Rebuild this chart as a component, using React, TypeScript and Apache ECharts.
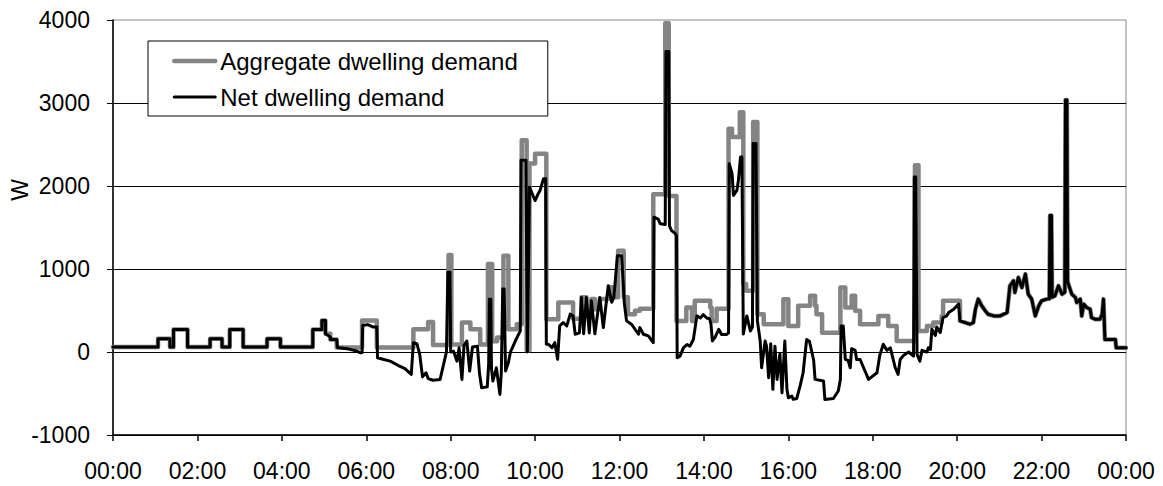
import React, { useEffect, useRef } from "react";
import * as echarts from "echarts";

// ---- data (time in minutes since 00:00, power in W) ----
const seriesNames = ["Aggregate dwelling demand", "Net dwelling demand"];
const xTickLabels = ["00:00", "02:00", "04:00", "06:00", "08:00", "10:00", "12:00", "14:00", "16:00", "18:00", "20:00", "22:00", "00:00"];
const yAxisTitle = "W";

// aggregate demand: level changes (value holds from each time until the next)
const aggStepTimes = [0, 64, 81, 86, 106, 138, 155, 166, 185, 219, 238, 284, 297, 302, 309, 318, 354, 375, 427, 448, 455, 477, 481, 496, 508, 522, 533, 539, 546, 555, 562, 574, 581, 588, 592, 600, 616, 633, 654, 666, 673, 680, 685, 692, 706, 711, 718, 726, 732, 742, 749, 768, 785, 790, 801, 815, 823, 827, 849, 851, 858, 875, 880, 891, 896, 900, 910, 916, 925, 953, 960, 974, 991, 998, 1000, 1008, 1034, 1041, 1050, 1055, 1062, 1088, 1102, 1114, 1140, 1145, 1157, 1166, 1178, 1180];
const aggStepValues = [60, 160, 60, 270, 60, 160, 60, 270, 60, 160, 60, 270, 380, 220, 150, 55, 380, 55, 275, 360, 85, 1170, 90, 355, 275, 90, 1060, 130, 175, 1160, 275, 335, 2550, 20, 2270, 2390, 395, 596, 400, 660, 430, 640, 516, 640, 780, 660, 1220, 660, 456, 496, 520, 1900, 3960, 1880, 375, 536, 375, 617, 536, 375, 520, 2690, 2590, 2890, 818, 737, 2770, 455, 334, 637, 314, 556, 677, 556, 455, 233, 777, 535, 677, 496, 334, 435, 314, 133, 2250, 254, 314, 355, 435, 617];

// net demand: points joined by straight lines
const netTimes = [0, 64, 64, 81, 81, 86, 86, 106, 106, 138, 138, 155, 155, 166, 166, 185, 185, 219, 219, 238, 238, 284, 284, 297, 297, 302, 302, 309, 309, 318, 319, 335, 345, 352, 354, 355, 362, 370, 375, 376, 385, 394, 405, 415, 424, 427, 432, 436, 440, 445, 448, 455, 465, 474, 476, 479, 480, 484, 489, 492, 496, 499, 503, 507, 511, 518, 521, 524, 532, 534, 535, 537, 538, 540, 545, 547, 550, 552, 554, 556, 558, 562, 565, 573, 579, 580, 587, 589, 592, 600, 604, 607, 612, 615, 616, 619, 624, 628, 632, 635, 640, 645, 650, 654, 657, 663, 666, 669, 673, 677, 680, 685, 692, 697, 704, 709, 712, 717, 723, 727, 730, 737, 742, 747, 749, 754, 761, 768, 769, 775, 778, 785, 786, 790, 791, 794, 799, 801, 802, 806, 811, 816, 820, 825, 830, 835, 839, 844, 848, 850, 852, 856, 861, 865, 872, 875, 876, 880, 882, 887, 889, 892, 894, 896, 901, 906, 909, 910, 914, 916, 920, 922, 927, 929, 932, 935, 938, 941, 944, 948, 951, 955, 958, 960, 965, 967, 972, 977, 981, 986, 990, 996, 998, 1010, 1012, 1024, 1031, 1034, 1035, 1038, 1041, 1045, 1048, 1050, 1055, 1057, 1062, 1067, 1074, 1086, 1090, 1095, 1100, 1105, 1112, 1116, 1119, 1124, 1131, 1138, 1139, 1141, 1143, 1147, 1150, 1152, 1157, 1159, 1162, 1164, 1169, 1171, 1176, 1178, 1180, 1185, 1188, 1195, 1202];
const netValues = [60, 60, 160, 160, 60, 60, 270, 270, 60, 60, 160, 160, 60, 60, 270, 270, 60, 60, 160, 160, 60, 60, 270, 270, 380, 380, 220, 180, 150, 150, 55, 35, 15, -10, -10, 320, 330, 300, 300, -70, -90, -110, -160, -200, -270, 112, 100, -30, -300, -250, -320, -340, -330, 0, 960, 960, 0, 10, -110, 50, -330, 80, 133, -230, 60, 70, -260, -430, -420, -150, 637, 637, -200, -350, -190, -320, -511, -250, 758, 758, -230, -130, 0, 153, 254, 2309, 2309, 0, 1986, 1825, 1900, 1945, 2088, 2088, 93, 93, 52, 113, -88, 314, 355, 314, 456, 435, 214, 230, 657, 220, 657, 230, 617, 220, 657, 294, 798, 600, 657, 1160, 1160, 577, 375, 335, 274, 214, 294, 214, 194, 113, 1624, 1600, 1544, 1535, 3620, 3620, 1520, 1463, 1430, 1400, -70, -50, 52, 90, 70, 150, 435, 410, 450, 410, 400, 335, 133, 180, 274, 210, 210, 230, 2269, 2150, 1886, 1950, 2068, 2349, 2349, 217, 435, 254, 300, 2511, 2511, 375, 133, -190, 133, 70, -310, 100, -450, 70, -330, -20, -492, 133, -450, -552, -530, -570, -560, -400, -250, 150, 130, -100, -330, -350, -573, -560, -470, -330, 314, 314, -88, -100, -190, 40, 20, -90, -90, -190, -330, -250, -40, 93, 20, 50, -190, -270, -90, -40, 0, -50, 2108, 2108, -30, -110, 20, 12, 0, 52, 30, 274, 200, 300, 234, 335, 415, 435, 475, 516, 577];

// evening, where both curves coincide
const tailTimes = [1204, 1218, 1223, 1226, 1230, 1235, 1240, 1244, 1252, 1261, 1271, 1275, 1280, 1282, 1287, 1292, 1297, 1301, 1306, 1311, 1316, 1320, 1327, 1331, 1332, 1334, 1335, 1339, 1344, 1349, 1353, 1354, 1356, 1357, 1358, 1363, 1368, 1370, 1375, 1377, 1380, 1384, 1389, 1391, 1396, 1403, 1406, 1408, 1410, 1425, 1426, 1440];
const tailValues = [375, 335, 355, 516, 637, 556, 496, 455, 435, 435, 475, 798, 858, 717, 898, 777, 939, 697, 637, 435, 556, 617, 637, 640, 1645, 1645, 660, 677, 798, 697, 720, 3035, 3035, 850, 818, 697, 657, 596, 637, 435, 577, 536, 516, 415, 395, 395, 455, 637, 150, 150, 52, 52];

const yTicks = { min: -1000, max: 4000, interval: 1000 };

const FONT = '"Liberation Sans", Arial, Helvetica, sans-serif';
const AGG_COLOR = "#848484";
const NET_COLOR = "#000";

function buildAggregate(): number[][] {
  const out: number[][] = [];
  for (let i = 0; i < aggStepTimes.length; i++) {
    if (i > 0) out.push([aggStepTimes[i], aggStepValues[i - 1]]);
    out.push([aggStepTimes[i], aggStepValues[i]]);
  }
  out.push([tailTimes[0], aggStepValues[aggStepValues.length - 1]]);
  for (let i = 0; i < tailTimes.length; i++) out.push([tailTimes[i], tailValues[i]]);
  return out;
}

function buildNet(): number[][] {
  const out: number[][] = [];
  for (let i = 0; i < netTimes.length; i++) out.push([netTimes[i], netValues[i]]);
  for (let i = 0; i < tailTimes.length; i++) out.push([tailTimes[i], tailValues[i]]);
  return out;
}

export default function App() {
  const ref = useRef<HTMLDivElement>(null);
  useEffect(() => {
    if (!ref.current) return;
    const chart = echarts.init(ref.current, undefined, { renderer: "svg" });
    chart.setOption({
      animation: false,
      backgroundColor: "#fff",
      textStyle: { fontFamily: FONT },
      grid: {
        left: 113,
        right: 37,
        top: 20,
        bottom: 51,
        show: true,
        borderColor: "#888",
        borderWidth: 1,
        backgroundColor: "transparent",
      },
      legend: {
        orient: "vertical",
        left: 148,
        top: 41,
        itemWidth: 41,
        itemHeight: 14,
        itemGap: 8,
        padding: [6, 30, 5, 24],
        borderColor: "#000",
        borderWidth: 1,
        backgroundColor: "#fff",
        itemStyle: { opacity: 0, borderWidth: 0 },
        textStyle: { fontFamily: FONT, fontSize: 24, color: "#000", lineHeight: 28 },
        data: [
          { name: seriesNames[0], lineStyle: { width: 4.5, color: AGG_COLOR } },
          { name: seriesNames[1], lineStyle: { width: 3, color: NET_COLOR } },
        ],
      },
      graphic: [
        {
          type: "text",
          x: 20,
          y: 190,
          rotation: Math.PI / 2,
          style: {
            text: yAxisTitle,
            fontFamily: FONT,
            fontSize: 23,
            fill: "#000",
            align: "center",
            verticalAlign: "middle",
          },
        },
      ],
      xAxis: {
        type: "value",
        min: 0,
        max: 1440,
        interval: 120,
        axisLine: { onZero: false, lineStyle: { color: "#000", width: 1.5 } },
        axisTick: { show: true, length: 6, lineStyle: { color: "#000", width: 1.5 } },
        axisLabel: {
          margin: 24,
          fontFamily: FONT,
          fontSize: 23,
          color: "#000",
          formatter: (v: number) => xTickLabels[Math.round(v / 120)] ?? "",
        },
        splitLine: { show: false },
      },
      yAxis: {
        type: "value",
        min: yTicks.min,
        max: yTicks.max,
        interval: yTicks.interval,
        axisLine: { show: true, lineStyle: { color: "#000", width: 1.5 } },
        axisTick: { show: true, length: 6, lineStyle: { color: "#000", width: 1 } },
        axisLabel: {
          margin: 23,
          fontFamily: FONT,
          fontSize: 23,
          color: "#000",
          formatter: (v: number) => String(v),
        },
        splitLine: { show: true, showMaxLine: false, lineStyle: { color: "#000", width: 1 } },
      },
      series: [
        {
          name: seriesNames[0],
          type: "line",
          data: buildAggregate(),
          symbol: "none",
          lineStyle: { color: AGG_COLOR, width: 4.5, join: "round", cap: "round" },
          itemStyle: { color: AGG_COLOR },
          z: 2,
        },
        {
          name: seriesNames[1],
          type: "line",
          data: buildNet(),
          symbol: "none",
          lineStyle: { color: NET_COLOR, width: 3, join: "round", cap: "round" },
          itemStyle: { color: NET_COLOR },
          z: 3,
        },
      ],
    });
    return () => chart.dispose();
  }, []);
  return (
    <div
      ref={ref}
      style={{ position: "fixed", left: 0, top: 0, width: 1163, height: 486, background: "#fff" }}
    />
  );
}
